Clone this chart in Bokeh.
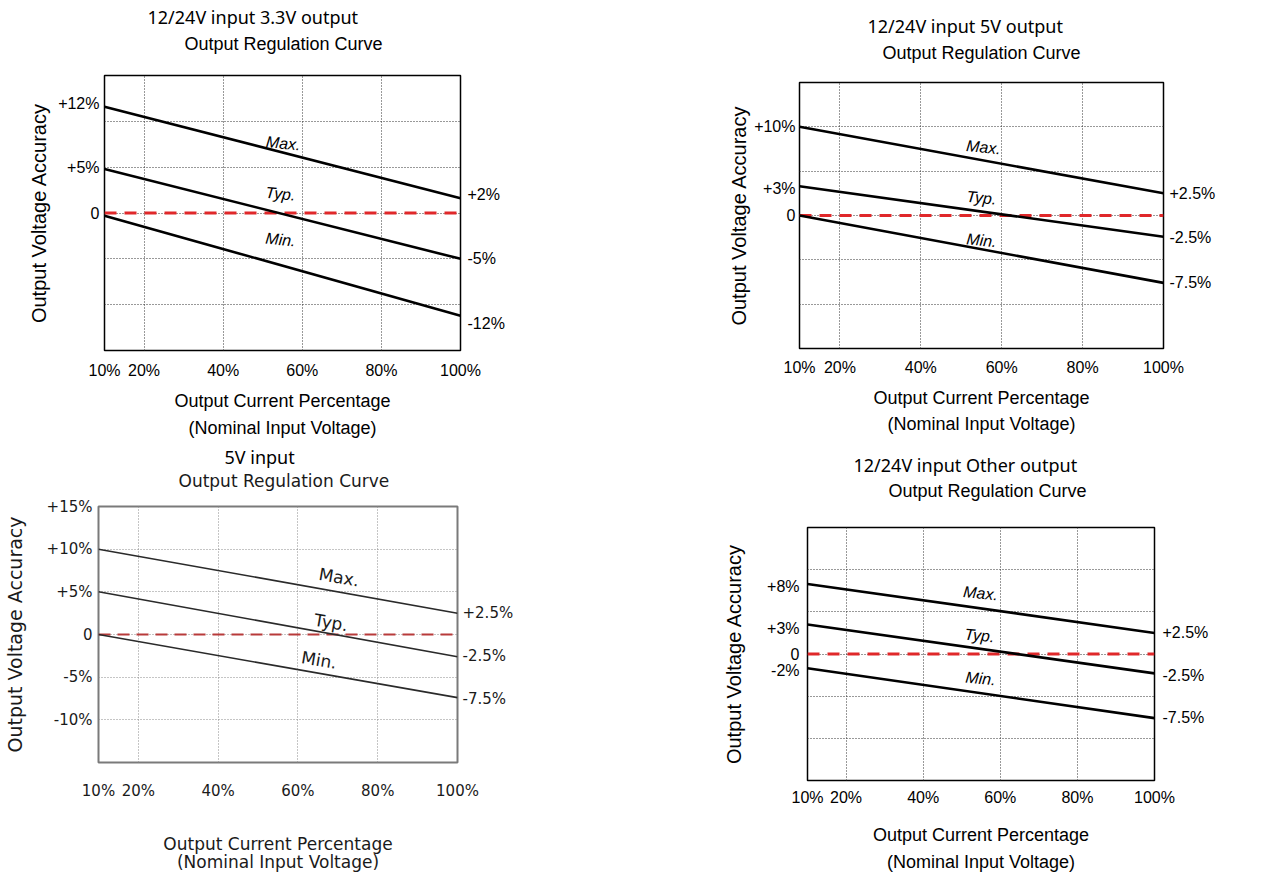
from bokeh.plotting import figure
from bokeh.models import FixedTicker, LinearAxis, Title, Range1d
from bokeh.layouts import row, column
from bokeh.embed import file_html
from bokeh.resources import INLINE
from bokeh.core.properties import value

# ---------------- data ----------------
load_pct = [10, 100]            # output current percentage at the two ends of every curve
zero_line = [0, 0]
x_tick_vals = [10, 20, 40, 60, 80, 100]
x_tick_labels = ["10%", "20%", "40%", "60%", "80%", "100%"]
x_grid_vals = [20, 40, 60, 80]
y_grid_vals = [-10, -5, 0, 5, 10]
curve_names = ["Max.", "Typ.", "Min."]

p1_title = "12/24V input 3.3V output"
p1_max = [11.6, 1.6]
p1_typ = [4.8, -5.0]
p1_min = [-0.3, -11.2]
p1_left_ticks = [12, 5, 0]
p1_left_labels = ["+12%", "+5%", "0"]
p1_right_ticks = [2, -5, -12]
p1_right_labels = ["+2%", "-5%", "-12%"]

p2_title = "12/24V input 5V output"
p2_max = [10.0, 2.5]
p2_typ = [3.3, -2.4]
p2_min = [0.0, -7.6]
p2_left_ticks = [10, 3, 0]
p2_left_labels = ["+10%", "+3%", "0"]
p2_right_ticks = [2.5, -2.5, -7.5]
p2_right_labels = ["+2.5%", "-2.5%", "-7.5%"]

p3_title = "5V input"
p3_max = [10.0, 2.5]
p3_typ = [5.0, -2.6]
p3_min = [0.0, -7.4]
p3_left_ticks = [15, 10, 5, 0, -5, -10]
p3_left_labels = ["+15%", "+10%", "+5%", "0", "-5%", "-10%"]
p3_right_ticks = [2.5, -2.5, -7.5]
p3_right_labels = ["+2.5%", "-2.5%", "-7.5%"]

p4_title = "12/24V input Other output"
p4_max = [8.3, 2.5]
p4_typ = [3.5, -2.3]
p4_min = [-1.7, -7.6]
p4_left_ticks = [8, 3, 0, -2]
p4_left_labels = ["+8%", "+3%", "0", "-2%"]
p4_right_ticks = [2.5, -2.5, -7.5]
p4_right_labels = ["+2.5%", "-2.5%", "-7.5%"]

subtitle = "Output Regulation Curve"
y_title = "Output Voltage Accuracy"
x_title = "Output Current Percentage\n(Nominal Input Voltage)"

# ---------------- styles ----------------
STYLE_A = dict(font="Liberation Sans", title_font="Noto Sans", tick_size="16px", axis_size="18px",
               ylab_size="20px", sub_size="18px", title_size="18px", curve_size="16px",
               curve_style="italic", line_color="black", line_width=2.6, grid_color="#333333",
               frame_color="black", frame_width=1.5, red="#e0282a", red_width=3, red_dash="12 8",
               text_color="black", curve_angle=-0.1)
STYLE_B = dict(font="DejaVu Sans", title_font="Noto Sans", tick_size="15px", axis_size="17px",
               ylab_size="19px", sub_size="17px", title_size="18px", curve_size="17px",
               curve_style="normal", line_color="#2a2a2a", line_width=1.6, grid_color="#8a8a8a",
               frame_color="#7a7a7a", frame_width=2, red="#b83a3a", red_width=2, red_dash="12 7",
               text_color="#1a1a1a", curve_angle=-0.17)


def make_panel(title, cmax, ctyp, cmin, lt, ll, rt, rl, st, g):
    p = figure(width=g["w"], height=g["h"], x_range=Range1d(10, 100), y_range=Range1d(-15, 15),
               output_backend="svg", toolbar_location=None, title=None,
               min_border_left=g["L"], min_border_right=g["R"],
               min_border_top=g["T"], min_border_bottom=g["B"])
    p.outline_line_color = st["frame_color"]
    p.outline_line_width = st["frame_width"]
    p.background_fill_color = "white"
    p.border_fill_color = "white"

    # grid
    p.xgrid.ticker = FixedTicker(ticks=x_grid_vals)
    p.ygrid.ticker = FixedTicker(ticks=y_grid_vals)
    p.grid.grid_line_color = st["grid_color"]
    p.grid.grid_line_dash = "1 2"
    p.grid.grid_line_width = 1

    def style_axis(ax, standoff):
        ax.axis_line_color = None
        ax.major_tick_line_color = None
        ax.minor_tick_line_color = None
        ax.major_tick_out = 0
        ax.major_tick_in = 0
        ax.minor_tick_out = 0
        ax.major_label_text_font = st["font"]
        ax.major_label_text_font_size = st["tick_size"]
        ax.major_label_text_color = st["text_color"]
        ax.major_label_standoff = standoff
        ax.axis_label_text_font = st["font"]
        ax.axis_label_text_font_style = "normal"
        ax.axis_label_text_color = st["text_color"]

    xa = p.xaxis[0]
    xa.ticker = FixedTicker(ticks=x_tick_vals)
    xa.major_label_overrides = dict(zip(x_tick_vals, x_tick_labels))
    style_axis(xa, g["xs"])
    xa.axis_label = x_title
    xa.axis_label_text_font_size = st["axis_size"]
    xa.axis_label_standoff = g["xls"]
    xa.axis_label_text_line_height = g["xlh"]

    ya = p.yaxis[0]
    ya.ticker = FixedTicker(ticks=lt)
    ya.major_label_overrides = dict(zip(lt, ll))
    style_axis(ya, g["ys"])
    ya.axis_label = y_title
    ya.axis_label_text_font_size = st["ylab_size"]
    ya.axis_label_standoff = g["yls"]

    ra = LinearAxis(ticker=FixedTicker(ticks=rt))
    ra.major_label_overrides = dict(zip(rt, rl))
    style_axis(ra, g["rs"])
    p.add_layout(ra, "right")

    # heading: an empty gap, then the subtitle, then the main title (first added = nearest the frame)
    gap = Title(text=" ", text_font_size="1px", standoff=g["gap"])
    sub = Title(text=subtitle, align="left", offset=g["sub_off"], text_font=st["font"],
                text_font_size=st["sub_size"], text_font_style="normal", text_color=st["text_color"],
                standoff=0)
    main = Title(text=title, align="left", offset=g["title_off"], text_font=st["title_font"],
                 text_font_size=st["title_size"], text_font_style="normal", text_color="black",
                 standoff=g["title_so"])
    p.add_layout(gap, "above")
    p.add_layout(sub, "above")
    p.add_layout(main, "above")

    # curves
    p.line(load_pct, zero_line, line_color=st["red"], line_width=st["red_width"], line_dash=st["red_dash"])
    for ys in (cmax, ctyp, cmin):
        p.line(load_pct, ys, line_color=st["line_color"], line_width=st["line_width"])
    p.text(x=g["lx"], y=g["ly"], text=curve_names, angle=st["curve_angle"],
           text_font=value(st["font"]), text_font_size=st["curve_size"],
           text_font_style=st["curve_style"], text_color=st["text_color"],
           text_align="center", text_baseline="middle")
    return p


G1 = dict(w=703, h=442, L=104, R=243, T=75, B=92, xs=11, xls=9, xlh=1.36, ys=5, yls=5, rs=7,
          sub_off=80, title_off=43, gap=19, title_so=5,
          lx=[55.2, 54.5, 54.5], ly=[7.6, 2.1, -2.9])
G2 = dict(w=553, h=442, L=96, R=93, T=82, B=94, xs=10, xls=9, xlh=1.30, ys=4, yls=1, rs=6,
          sub_off=83, title_off=68, gap=17, title_so=6,
          lx=[55.5, 55.0, 55.0], ly=[7.7, 2.0, -2.8])
G3 = dict(w=703, h=434, L=97, R=246, T=64, B=114, xs=19, xls=31, xlh=0.93, ys=6, yls=18, rs=5,
          sub_off=80, title_off=126, gap=13, title_so=0,
          lx=[70.3, 68.3, 65.3], ly=[6.7, 1.4, -3.0])
G4 = dict(w=553, h=434, L=104, R=102, T=85, B=96, xs=8, xls=16, xlh=1.35, ys=8, yls=19, rs=8,
          sub_off=81, title_off=46, gap=24, title_so=4,
          lx=[54.9, 54.6, 54.9], ly=[7.2, 2.2, -2.9])

p1 = make_panel(p1_title, p1_max, p1_typ, p1_min, p1_left_ticks, p1_left_labels,
                p1_right_ticks, p1_right_labels, STYLE_A, G1)
p2 = make_panel(p2_title, p2_max, p2_typ, p2_min, p2_left_ticks, p2_left_labels,
                p2_right_ticks, p2_right_labels, STYLE_A, G2)
p3 = make_panel(p3_title, p3_max, p3_typ, p3_min, p3_left_ticks, p3_left_labels,
                p3_right_ticks, p3_right_labels, STYLE_B, G3)
p4 = make_panel(p4_title, p4_max, p4_typ, p4_min, p4_left_ticks, p4_left_labels,
                p4_right_ticks, p4_right_labels, STYLE_A, G4)

layout = row(column(column(p1), column(p3)), column(column(p2), column(p4)))
open("out.html", "w").write(file_html(layout, INLINE))
